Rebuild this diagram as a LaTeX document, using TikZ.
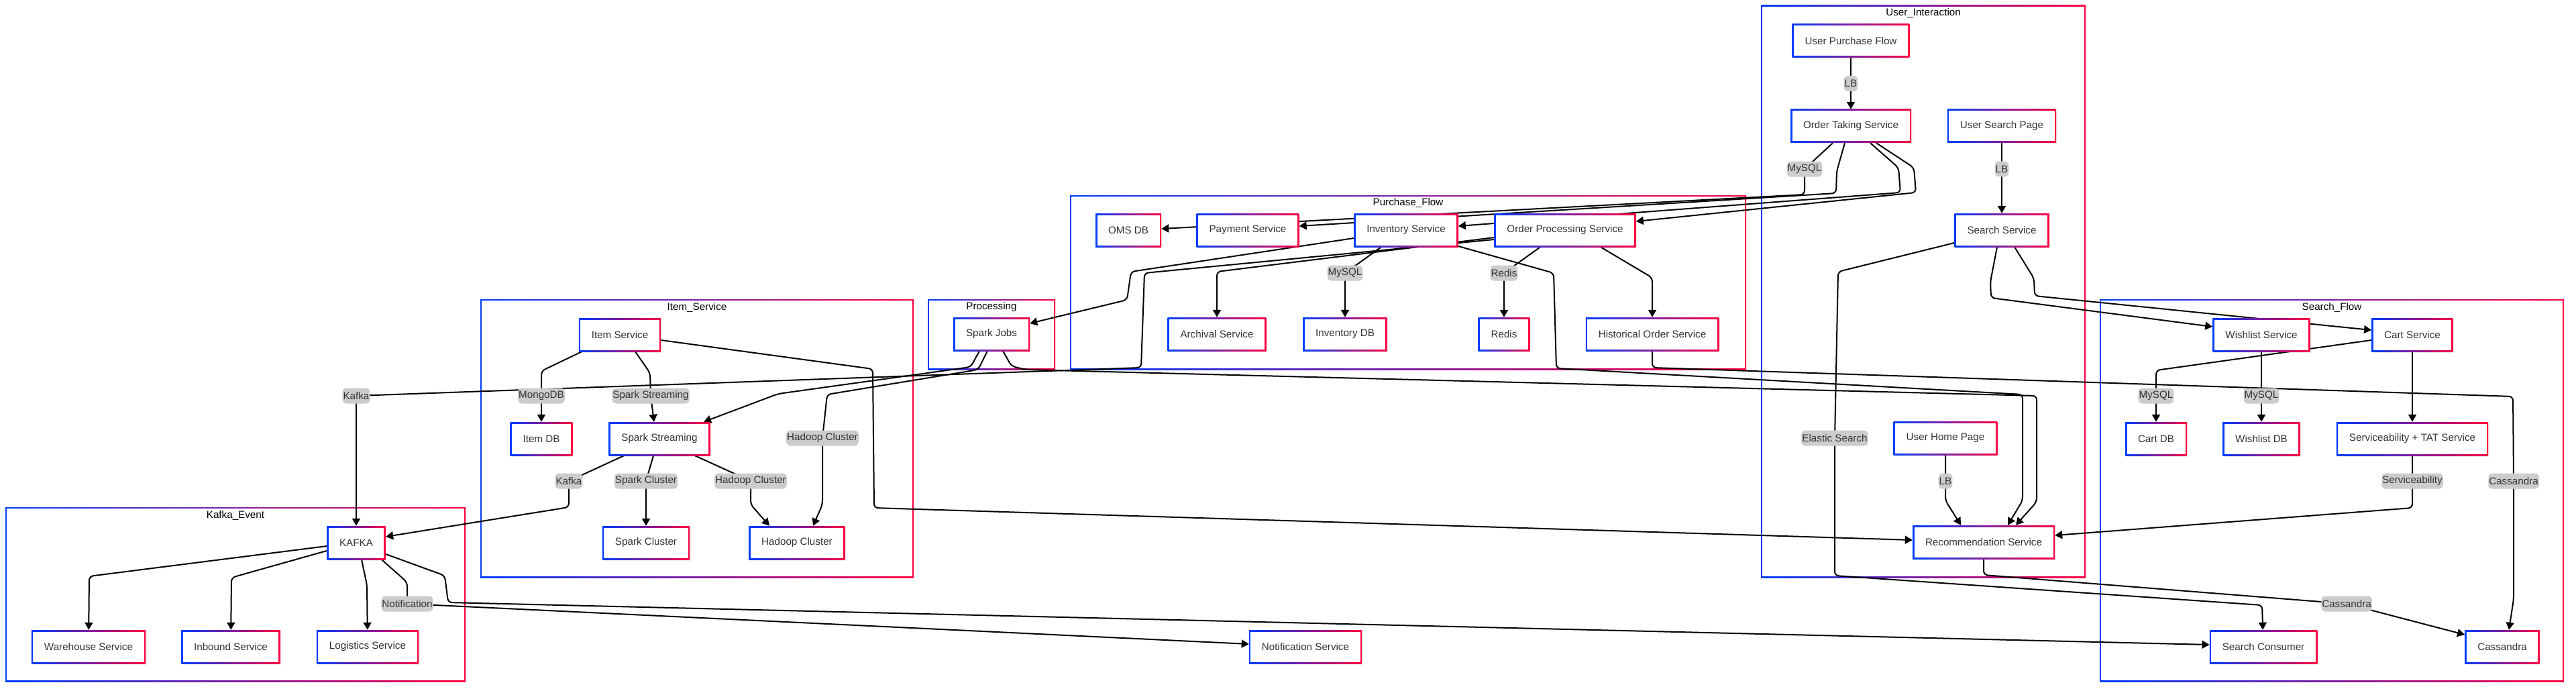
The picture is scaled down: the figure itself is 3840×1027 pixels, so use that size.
\documentclass[tikz,border=0pt]{standalone}
\usepackage{fontspec}
\setmainfont{Liberation Sans}
\usepackage{tikz}
\usetikzlibrary{arrows.meta,shadows}
\definecolor{ublue}{RGB}{0,60,255}
\definecolor{ured}{RGB}{255,0,64}
\definecolor{txt}{RGB}{51,51,51}
\definecolor{lblbg}{RGB}{204,204,204}
\pgfdeclarelayer{grp}
\pgfdeclarelayer{edges}
\pgfsetlayers{grp,edges,main}

\begin{document}
\begin{tikzpicture}[x=1pt, y=-1pt, >={Triangle[length=11pt, width=12pt]}]
    \tikzset{
        n/.style        =   { rectangle
                            , minimum height=50pt
                            , inner xsep=19pt
                            , left color=ublue
                            , right color=ured
                            , drop shadow={opacity=0.12, shadow xshift=1.5pt, shadow yshift=-2pt}
                            , path picture={\fill[white] ([shift={(2.5pt,2.5pt)}]path picture bounding box.south west) rectangle ([shift={(-2.5pt,-2.5pt)}]path picture bounding box.north east);}
                            , text=txt
                            , font=\fontsize{15.2}{18}\selectfont
        }
        , grp/.style    =   { rectangle
                            , inner sep=0pt
                            , left color=ublue
                            , right color=ured
                            , path picture={\fill[white] ([shift={(2pt,2pt)}]path picture bounding box.south west) rectangle ([shift={(-2pt,-2pt)}]path picture bounding box.north east);}
        }
        , ttl/.style    =   { inner sep=0pt
                            , text=black
                            , font=\fontsize{15.2}{18}\selectfont
        }
        , lbl/.style    =   { fill=lblbg
                            , text=txt
                            , inner xsep=1pt
                            , inner ysep=0pt
                            , minimum height=23pt
                            , font=\fontsize{15.2}{18}\selectfont
        }
        , arrow/.style  =   { line width=2pt
                            , rounded corners=6pt
        }
    }
    \path[use as bounding box] (0,0) rectangle (3840,1027);

    \begin{pgfonlayer}{grp}
    \fill[white] (0,0) rectangle (3840,1027);
    \node(g1)[grp, minimum width=484pt, minimum height=853pt]  at (2867,434.5) {};
    \node(g2)[grp, minimum width=1008pt, minimum height=260pt] at (2099,421)   {};
    \node(g3)[grp, minimum width=190pt, minimum height=105pt]  at (1478,498.5) {};
    \node(g4)[grp, minimum width=646pt, minimum height=415pt]  at (1039,653.5) {};
    \node(g5)[grp, minimum width=686pt, minimum height=260pt]  at (351,886)    {};
    \node(g6)[grp, minimum width=692pt, minimum height=570pt]  at (3476,731)   {};
    \node(t1)[ttl] at (2867,20)  {User\_Interaction};
    \node(t2)[ttl] at (2099,303) {Purchase\_Flow};
    \node(t3)[ttl] at (1478,458) {Processing};
    \node(t4)[ttl] at (1039,458) {Item\_Service};
    \node(t5)[ttl] at (351,768)  {Kafka\_Event};
    \node(t6)[ttl] at (3476,458) {Search\_Flow};
    \end{pgfonlayer}

    \node(1)[n]  at (2759,61)  {User Purchase Flow};
    \node(2)[n]  at (2759,188) {Order Taking Service};
    \node(3)[n]  at (2984,188) {User Search Page};
    \node(4)[n]  at (2984,343) {Search Service};
    \node(5)[n]  at (2900,653) {User Home Page};
    \node(6)[n]  at (2957,808) {Recommendation Service};
    \node(7)[n]  at (1682,343) {OMS DB};
    \node(8)[n]  at (1860,343) {Payment Service};
    \node(9)[n]  at (2096,343) {Inventory Service};
    \node(10)[n] at (2333,343) {Order Processing Service};
    \node(11)[n] at (1814,498) {Archival Service};
    \node(12)[n] at (2005,498) {Inventory DB};
    \node(13)[n] at (2242,498) {Redis};
    \node(14)[n] at (2463,498) {Historical Order Service};
    \node(15)[n] at (1478,498) {Spark Jobs};
    \node(16)[n] at (924,499)  {Item Service};
    \node(17)[n] at (807,654)  {Item DB};
    \node(18)[n] at (983,654)  {Spark Streaming};
    \node(19)[n] at (963,809)  {Spark Cluster};
    \node(20)[n] at (1188,809) {Hadoop Cluster};
    \node(21)[n] at (531,809)  {KAFKA};
    \node(22)[n] at (132,964)  {Warehouse Service};
    \node(23)[n] at (344,964)  {Inbound Service};
    \node(24)[n] at (548,964)  {Logistics Service};
    \node(25)[n] at (3371,499) {Wishlist Service};
    \node(26)[n] at (3596,499) {Cart Service};
    \node(27)[n] at (3214,654) {Cart DB};
    \node(28)[n] at (3371,654) {Wishlist DB};
    \node(29)[n] at (3596,654) {Serviceability + TAT Service};
    \node(30)[n] at (3374,964) {Search Consumer};
    \node(31)[n] at (3730,964) {Cassandra};
    \node(32)[n] at (1946,964) {Notification Service};

    \begin{pgfonlayer}{edges}
    \draw[arrow,->] ([yshift=-14pt]10.west) -- (1706,407) -- (1701,548) -- (531,590) node[lbl]{Kafka} -- (21);
    \draw[arrow,->] (1) -- node[lbl]{LB} (2);
    \draw[arrow,->] (3) -- node[lbl, pos=0.37]{LB} (4);
    \draw[arrow,->] (5) -- (2900,717) node[lbl]{LB} -- (2900,746) -- ([xshift=-34pt]6.north);
    \draw[arrow,->] ([xshift=-27pt]2.south) -- (2690,252) node[lbl]{MySQL} -- (2690,290) -- ([yshift=2pt]7.east);
    \draw[arrow,->] ([xshift=-9pt]2.south) -- (2738,255) -- (2737,288) -- ([yshift=6pt]8.east);
    \draw[arrow,->] ([xshift=29pt]2.south) -- (2830,250) -- (2833,287) -- ([yshift=6pt]9.east);
    \draw[arrow,->] ([xshift=38pt]2.south) -- (2853,250) -- (2856,287) -- ([yshift=13pt]10.east);
    \draw[arrow,->] ([xshift=-37pt]9.south) -- (2005,407) node[lbl]{MySQL} -- (12);
    \draw[arrow,->] ([xshift=-37pt]10.south) -- (2242,407) node[lbl]{Redis} -- (13);
    \draw[arrow,->] ([xshift=53pt]10.south) -- (2463,414) -- (14);
    \draw[arrow,->] ([yshift=-11pt]10.west) -- (1814,405) -- (11);
    \draw[arrow,->] ([yshift=-12pt]9.west) -- (1686,405) -- (1680,447) -- ([yshift=16pt]15.east);
    \draw[arrow,->] ([yshift=-24pt]9.east) -- (2316,407) -- (2320,549) -- (3015,588) -- (3015,746) -- ([xshift=36pt]6.north);
    \draw[arrow,->] ([xshift=17pt]15.south) -- (1508,546) -- (1530,551) -- (3036,590) -- (3036,748) -- ([xshift=48pt]6.north);
    \draw[arrow,->] (14) -- (2463,548) -- (3746,591) -- (3747,717) node[lbl]{Cassandra} -- (3747,893) -- ([xshift=10pt]31.north);
    \draw[arrow,->] ([xshift=-18pt]15.south) -- (1447,547) -- (1160,587) -- ([xshift=66pt]18.north);
    \draw[arrow,->] ([xshift=-6pt]15.south) -- (1458,551) -- (1233,588) -- (1226,653) node[lbl]{Hadoop Cluster} -- (1226,752) -- ([xshift=24pt]20.north);
    \draw[arrow,->] ([xshift=-57pt]16.south) -- (807,553) -- (807,590) node[lbl]{MongoDB} -- (17);
    \draw[arrow,->] ([xshift=23pt]16.south) -- (969,556) -- (970,590) node[lbl]{Spark Streaming} -- ([xshift=-8pt]18.north);
    \draw[arrow,->] ([yshift=-8pt]16.east) -- (1301,550) -- (1303,757) -- ([yshift=3pt]6.west);
    \draw[arrow,->] ([xshift=-53pt]18.south) -- (848,717) node[lbl]{Kafka} -- (848,756) -- ([yshift=9pt]21.east);
    \draw[arrow,->] ([xshift=-9pt]18.south) -- (963,717) node[lbl]{Spark Cluster} -- (19);
    \draw[arrow,->] ([xshift=53pt]18.south) -- (1119,717) node[lbl]{Hadoop Cluster} -- (1119,752) -- ([xshift=-41pt]20.north);
    \draw[arrow,->] ([yshift=-5pt]21.west) -- (133,859) -- (22);
    \draw[arrow,->] ([yshift=-12pt]21.west) -- (345,861) -- (23);
    \draw[arrow,->] ([xshift=8pt]21.south) -- (547,872) -- (24);
    \draw[arrow,->] ([xshift=38pt]21.south) -- (607,868) -- (607,900) node[lbl]{Notification} -- ([yshift=4pt]32.west);
    \draw[arrow,->] ([yshift=-17pt]21.east) -- (663,858) -- (668,898) -- ([yshift=3pt]30.west);
    \draw[arrow,->] ([yshift=-19pt]4.west) -- (2740,405) -- (2735,653) node[lbl]{Elastic Search} -- (2735,858) -- (3372,902) -- (30);
    \draw[arrow,->] ([xshift=-7pt]4.south) -- (2967,420) -- (2968,444) -- ([yshift=12pt]25.west);
    \draw[arrow,->] ([xshift=19pt]4.south) -- (3032,415) -- (3033,441) -- ([yshift=7pt]26.west);
    \draw[arrow,->] (6) -- (2957,857) -- (3498,900) node[lbl]{Cassandra} -- ([yshift=18pt]31.west);
    \draw[arrow,->] (25) -- (3371,590) node[lbl]{MySQL} -- (28);
    \draw[arrow,->] ([yshift=-8pt]26.west) -- (3214,552) -- (3214,590) node[lbl]{MySQL} -- (27);
    \draw[arrow,->] (26) -- (29);
    \draw[arrow,->] (29) -- (3596,717) node[lbl]{Serviceability} -- (3596,757) -- ([yshift=10pt]6.east);
    \end{pgfonlayer}
\end{tikzpicture}
\end{document}
